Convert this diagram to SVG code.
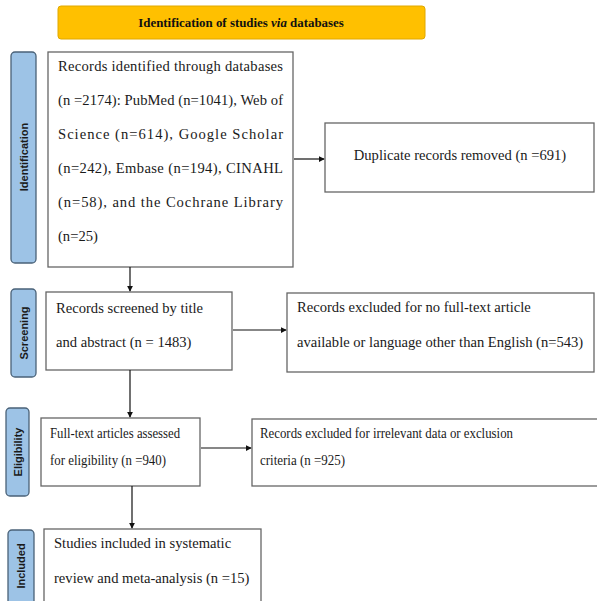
<svg xmlns="http://www.w3.org/2000/svg" width="597" height="601" viewBox="0 0 597 601">
<style>
.box{fill:#fff;stroke:#666;stroke-width:1.3}
.bar{fill:#9DC3E6;stroke:#4A6278;stroke-width:1.3}
.t{font-family:"Liberation Serif","Times New Roman",serif;font-size:14.6px;fill:#1a1a1a}
.e{font-size:14px}
.s{font-family:"Liberation Sans",Arial,sans-serif;font-size:11px;font-weight:bold;fill:#1a1a1a;text-anchor:middle}
.c{stroke:#111;stroke-width:1.2;fill:none;marker-end:url(#ah)}
</style>
<defs>
<marker id="ah" viewBox="0 0 8 8" refX="7" refY="4" markerWidth="6" markerHeight="6" markerUnits="userSpaceOnUse" orient="auto">
<path d="M0,0 L8,4 L0,8 z" fill="#111"/>
</marker>
</defs>
<rect width="597" height="601" fill="#fff"/>
<g id="title">
<rect x="58" y="6" width="367" height="33" rx="3" fill="#FFC000" stroke="#E0A800" stroke-width="1"/>
<text x="241" y="27" text-anchor="middle" style="font-family:'Liberation Serif','Times New Roman',serif;font-size:12.9px;font-weight:bold;fill:#111">Identification of studies <tspan font-style="italic">via</tspan> databases</text>
</g>
<g id="stage-identification">
<rect class="bar" x="11" y="52" width="25" height="211" rx="4"/>
<text class="s" transform="translate(27.5,157) rotate(-90)">Identification</text>
</g>
<g id="stage-screening">
<rect class="bar" x="11" y="289" width="25" height="88" rx="4"/>
<text class="s" transform="translate(27.5,333) rotate(-90)">Screening</text>
</g>
<g id="stage-eligibility">
<rect class="bar" x="6" y="408" width="23" height="88" rx="4"/>
<text class="s" transform="translate(21.5,452) rotate(-90)">Eligibility</text>
</g>
<g id="stage-included">
<rect class="bar" x="8" y="530" width="26" height="80" rx="4"/>
<text class="s" transform="translate(25,566) rotate(-90)">Included</text>
</g>
<g id="records-identified">
<rect class="box" x="48" y="52" width="245" height="215"/>
<text class="t" x="58" y="71" textLength="225" lengthAdjust="spacing">Records identified through databases</text>
<text class="t" x="58" y="105" textLength="225" lengthAdjust="spacing">(n =2174): PubMed (n=1041), Web of</text>
<text class="t" x="58" y="139" textLength="225" lengthAdjust="spacing">Science (n=614), Google Scholar</text>
<text class="t" x="58" y="173" textLength="225" lengthAdjust="spacing">(n=242), Embase (n=194), CINAHL</text>
<text class="t" x="58" y="207" textLength="225" lengthAdjust="spacing">(n=58), and the Cochrane Library</text>
<text class="t" x="58" y="241">(n=25)</text>
</g>
<g id="duplicates">
<rect class="box" x="325" y="123" width="269" height="69"/>
<text class="t" x="460" y="160" text-anchor="middle">Duplicate records removed (n =691)</text>
</g>
<g id="screened">
<rect class="box" x="46" y="292" width="186" height="78"/>
<text class="t" x="56" y="313">Records screened by title</text>
<text class="t" x="56" y="347">and abstract (n = 1483)</text>
</g>
<g id="excluded-fulltext">
<rect class="box" x="287" y="293" width="307" height="79"/>
<text class="t" x="297" y="312">Records excluded for no full-text article</text>
<text class="t" x="297" y="347">available or language other than English (n=543)</text>
</g>
<g id="assessed">
<rect class="box" x="41" y="418" width="159" height="68"/>
<text class="t e" x="50" y="438" textLength="130" lengthAdjust="spacingAndGlyphs">Full-text articles assessed</text>
<text class="t e" x="50" y="465" textLength="116" lengthAdjust="spacingAndGlyphs">for eligibility (n =940)</text>
</g>
<g id="excluded-irrelevant">
<rect class="box" x="252" y="419" width="350" height="67"/>
<text class="t e" x="260" y="438" textLength="253" lengthAdjust="spacingAndGlyphs">Records excluded for irrelevant data or exclusion</text>
<text class="t e" x="260" y="465" textLength="85" lengthAdjust="spacingAndGlyphs">criteria (n =925)</text>
</g>
<g id="included">
<rect class="box" x="44" y="529" width="217" height="85"/>
<text class="t" x="54" y="548">Studies included in systematic</text>
<text class="t" x="54" y="583">review and meta-analysis (n =15)</text>
</g>
<g id="connectors">
<path class="c" d="M294,159 H324"/>
<path class="c" d="M130,267 V291"/>
<path class="c" d="M233,330 H286"/>
<path class="c" d="M130,370 V417"/>
<path class="c" d="M201,448 H251"/>
<path class="c" d="M132,486 V528"/>
</g>
</svg>
